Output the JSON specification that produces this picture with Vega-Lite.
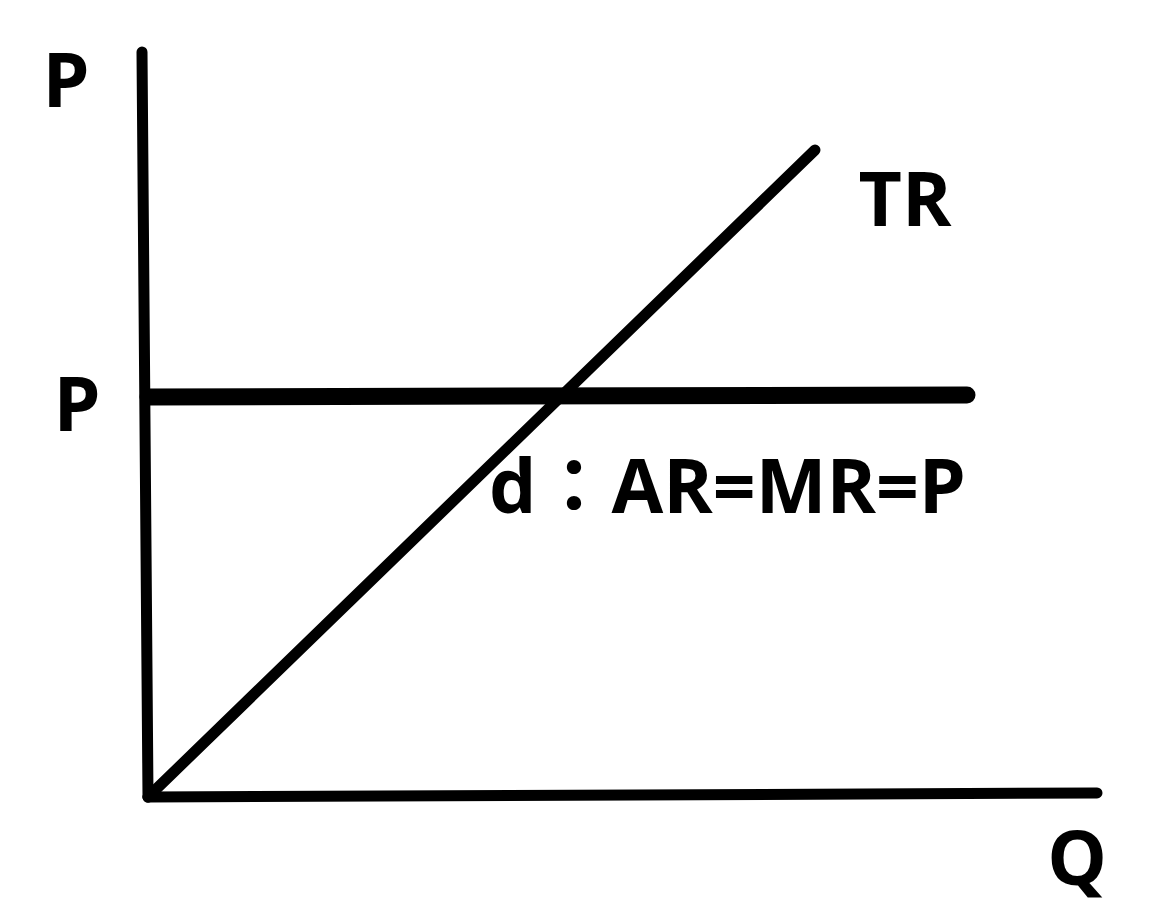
{
  "$schema": "https://vega.github.io/schema/vega-lite/v6.json",
  "width": 1172,
  "height": 916,
  "autosize": {"type": "fit", "contains": "padding"},
  "padding": 0,
  "background": "white",
  "config": {"view": {"stroke": null}},
  "datasets": {
    "lines": [
      {"series": "Y axis", "q": -0.06, "p": 7.45},
      {"series": "Y axis", "q": 0.0, "p": 0.0},
      {"series": "X axis", "q": 0.0, "p": 0.0},
      {"series": "X axis", "q": 9.49, "p": 0.04},
      {"series": "TR", "q": 0.0, "p": 0.0},
      {"series": "TR", "q": 6.67, "p": 6.47},
      {"series": "d", "q": 0.0, "p": 4.0},
      {"series": "d", "q": 8.19, "p": 4.02}
    ],
    "labels": [
      {"text": "P", "q": -0.82, "p": 6.9},
      {"text": "P", "q": -0.71, "p": 3.66},
      {"text": "TR", "q": 7.57, "p": 5.71},
      {"text": "d：AR=MR=P", "q": 5.795, "p": 2.84},
      {"text": "Q", "q": 9.29, "p": -0.88}
    ]
  },
  "layer": [
    {
      "data": {"name": "lines"},
      "transform": [{"filter": "datum.series != 'd'"}],
      "mark": {"type": "line", "color": "black", "strokeWidth": 11, "strokeCap": "round", "strokeJoin": "round"},
      "encoding": {
        "x": {"field": "q", "type": "quantitative", "scale": {"domain": [-1.48, 10.24], "nice": false, "zero": false}, "axis": null},
        "y": {"field": "p", "type": "quantitative", "scale": {"domain": [-1.19, 7.97], "nice": false, "zero": false}, "axis": null},
        "detail": {"field": "series"},
        "order": {"field": "q", "type": "quantitative"}
      }
    },
    {
      "data": {"name": "lines"},
      "transform": [{"filter": "datum.series == 'd'"}],
      "mark": {"type": "line", "color": "black", "strokeWidth": 17, "strokeCap": "round"},
      "encoding": {
        "x": {"field": "q", "type": "quantitative"},
        "y": {"field": "p", "type": "quantitative"},
        "detail": {"field": "series"}
      }
    },
    {
      "data": {"name": "labels"},
      "mark": {"type": "text", "color": "black", "font": "Open Sans, Noto Sans CJK TC", "fontWeight": "bold", "fontSize": 75, "align": "center", "baseline": "alphabetic"},
      "encoding": {
        "x": {"field": "q", "type": "quantitative"},
        "y": {"field": "p", "type": "quantitative"},
        "text": {"field": "text"}
      }
    }
  ]
}
